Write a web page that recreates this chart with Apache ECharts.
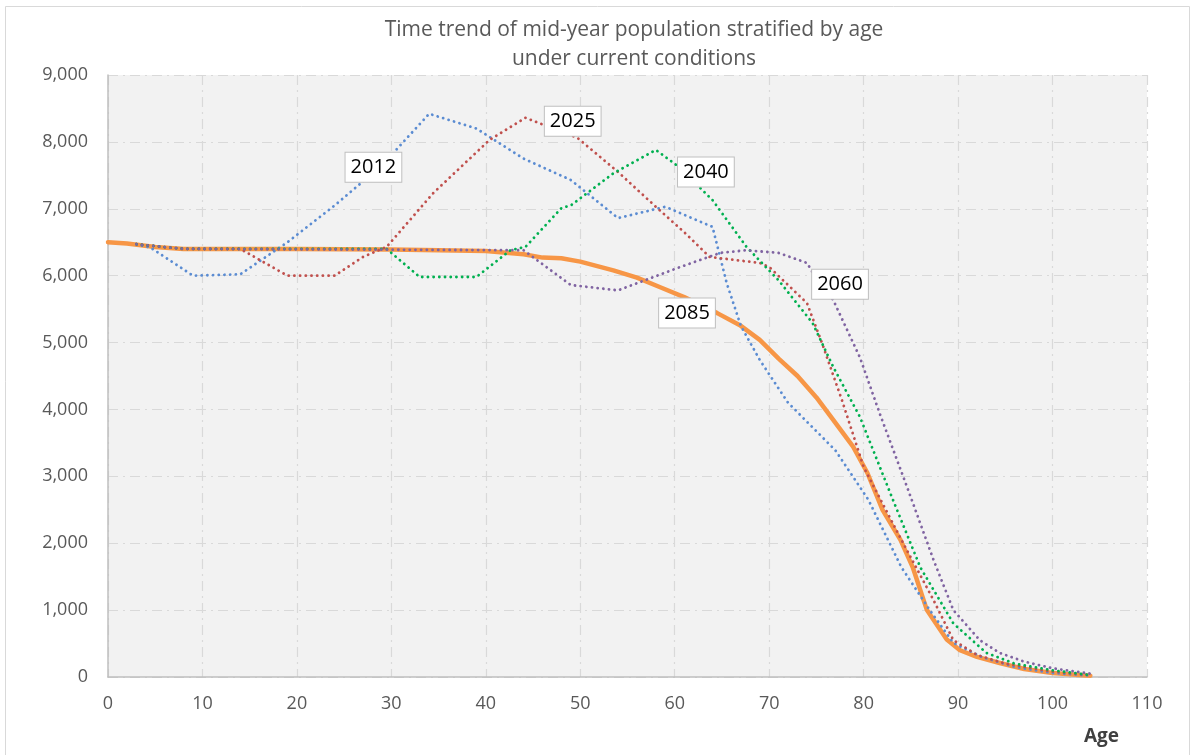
<!DOCTYPE html>
<html>
<head>
<meta charset="utf-8">
<script src="https://cdn.jsdelivr.net/npm/echarts@6/dist/echarts.min.js"></script>
<style>
  html, body { margin: 0; padding: 0; background: #fff; }
  #main { width: 1191px; height: 755px; }
</style>
</head>
<body>
<div id="main"></div>
<script>
// population by age, one [age, value] list per projection year
const ages2012 = [3, 4.5, 9, 14, 19, 24, 29, 34, 39, 44, 49, 54, 59, 64, 65.5, 67, 69, 72, 77, 80.5, 84, 87, 89.5, 92.5, 96, 100, 104];
const pop2012 = [6470, 6420, 6000, 6020, 6500, 7050, 7650, 8420, 8200, 7750, 7430, 6860, 7030, 6730, 5890, 5250, 4740, 4100, 3390, 2650, 1640, 1000, 510, 300, 150, 60, 20];

const ages2025 = [3, 8, 14, 19, 24, 27, 29.5, 34.4, 40.4, 44.2, 49.7, 54, 58, 61, 63.7, 69, 70, 74, 75.6, 77.7, 80, 84, 87.4, 89.5, 92, 95, 100, 104];
const pop2025 = [6470, 6400, 6400, 6000, 6000, 6280, 6430, 7230, 8030, 8360, 8060, 7550, 7030, 6650, 6280, 6190, 6130, 5590, 4990, 4140, 3140, 2050, 1150, 550, 330, 200, 80, 25];

const ages2040 = [3, 8, 29.5, 33, 39, 42.6, 44.2, 48, 49, 53.5, 58, 60.5, 64, 67.6, 71, 74.6, 76.8, 79.6, 83.1, 86, 89.5, 93, 96, 100, 104];
const pop2040 = [6470, 6400, 6400, 5980, 5980, 6380, 6430, 7010, 7050, 7530, 7880, 7620, 7130, 6430, 5930, 5290, 4630, 3890, 2650, 1640, 800, 360, 200, 100, 30];

const ages2060 = [3, 8, 44, 49, 54, 60.6, 64.8, 67.6, 71, 74, 74.6, 76.8, 79.6, 81.7, 84.6, 87.4, 89.5, 92.3, 94.4, 97, 100, 104];
const pop2060 = [6470, 6400, 6380, 5860, 5780, 6130, 6340, 6380, 6340, 6190, 6050, 5630, 4780, 3940, 2840, 1750, 1000, 550, 360, 230, 130, 50];

const ages2085 = [0, 2, 5, 8, 20, 30, 35, 40, 44, 46, 48, 50, 53.5, 56, 58.4, 61, 64.5, 67, 69, 71, 73, 75, 76.8, 78.9, 80.4, 82, 83.9, 85.2, 86.7, 88.8, 90.2, 92, 94.4, 97, 100, 104];
const pop2085 = [6500, 6480, 6430, 6400, 6400, 6390, 6380, 6370, 6320, 6270, 6260, 6210, 6080, 5970, 5830, 5680, 5440, 5250, 5040, 4760, 4500, 4180, 3840, 3440, 3050, 2500, 2050, 1640, 1000, 560, 400, 300, 210, 120, 60, 20];

const years = ['2012', '2025', '2040', '2060', '2085'];
const colors = ['#5b8cd2', '#c0504d', '#00b050', '#8064a2', '#f79646'];
// where each year's tag sits, [age, population]
const tagAt = [[28.1, 7620], [49.2, 8310], [63.3, 7550], [77.5, 5870], [61.3, 5440]];

const xTicks = { min: 0, max: 110, interval: 10 };
const yTicks = { min: 0, max: 9000, interval: 1000 };

const allAges = [ages2012, ages2025, ages2040, ages2060, ages2085];
const allPop = [pop2012, pop2025, pop2040, pop2060, pop2085];

function pairs(a, v) {
  return a.map((x, i) => [x, v[i]]);
}

const font = '"Open Sans", "Noto Sans", sans-serif';

let chartDom = document.getElementById('main');
let myChart = echarts.init(chartDom);

let series = years.map((yr, i) => {
  const isLast = i === years.length - 1;
  return {
    name: yr,
    type: 'line',
    data: pairs(allAges[i], allPop[i]),
    showSymbol: false,
    symbol: 'none',
    z: isLast ? 1 : 2 + i,
    lineStyle: isLast
      ? { color: colors[i], width: 4.5, cap: 'round', join: 'round' }
      : { color: colors[i], width: 2.8, type: [0.1, 5.6], cap: 'round' },
    markPoint: {
      symbol: 'rect',
      symbolSize: 0,
      z: 20,
      data: [{ coord: tagAt[i] }],
      label: {
        show: true,
        position: 'inside',
        formatter: yr,
        color: '#000',
        fontFamily: font,
        fontSize: 20,
        backgroundColor: '#fff',
        borderColor: '#bfbfbf',
        borderWidth: 1,
        padding: [3, 5, 2, 5],
        lineHeight: 24
      }
    }
  };
});
// dotted series on top of the thick one, as in the original
series = [series[4]].concat(series.slice(0, 4));

let option = {
  backgroundColor: '#fff',
  animation: false,
  color: colors,
  title: {
    text: 'Time trend of mid-year population stratified by age\nunder current conditions',
    left: 629,
    top: 11,
    textAlign: 'center',
    textStyle: {
      fontFamily: font,
      fontWeight: 'normal',
      fontSize: 21,
      lineHeight: 29,
      color: '#595959'
    }
  },
  grid: {
    show: true,
    left: 108,
    right: 44,
    top: 75,
    bottom: 78,
    backgroundColor: '#f2f2f2',
    borderWidth: 0
  },
  xAxis: {
    type: 'value',
    min: xTicks.min,
    max: xTicks.max,
    interval: xTicks.interval,
    axisLine: { show: true, onZero: false, lineStyle: { color: '#bfbfbf', width: 1.5 } },
    axisTick: { show: false },
    axisLabel: { color: '#595959', fontFamily: font, fontSize: 18, margin: 18 },
    splitLine: { show: true, lineStyle: { color: '#d9d9d9', width: 1.2, type: [10, 5, 2, 5] } }
  },
  yAxis: {
    type: 'value',
    min: yTicks.min,
    max: yTicks.max,
    interval: yTicks.interval,
    axisLine: { show: true, lineStyle: { color: '#bfbfbf', width: 1.5 } },
    axisTick: { show: false },
    axisLabel: {
      color: '#595959',
      fontFamily: font,
      fontSize: 18,
      margin: 20,
      formatter: (v) => v.toLocaleString('en-US')
    },
    splitLine: { show: true, lineStyle: { color: '#d9d9d9', width: 1.2, type: [10, 5, 2, 5] } }
  },
  graphic: [
    {
      type: 'rect',
      left: 3,
      top: 4,
      shape: { width: 1184, height: 800 },
      style: { fill: 'none', stroke: '#d9d9d9', lineWidth: 1 },
      silent: true
    },
    {
      type: 'text',
      left: 1084,
      top: 727,
      style: {
        text: 'Age',
        fill: '#404040',
        font: 'bold 19px "Open Sans", "Noto Sans", sans-serif'
      }
    }
  ],
  series: series
};

option && myChart.setOption(option);
</script>
</body>
</html>
